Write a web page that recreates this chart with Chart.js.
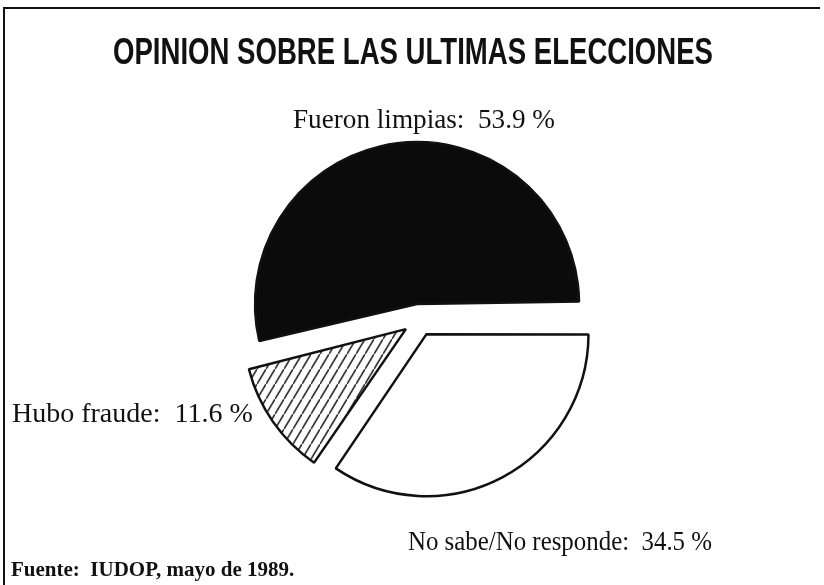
<!DOCTYPE html>
<html>
<head>
<meta charset="utf-8">
<script src="https://cdn.jsdelivr.net/npm/chart.js@4.4.1/dist/chart.umd.min.js"></script>
<style>
  html, body { margin: 0; padding: 0; background: #fff; }
  #wrap { width: 824px; height: 585px; position: relative; }
</style>
</head>
<body>
<div id="wrap"><canvas id="pie"></canvas></div>
<script>
// data, clockwise from 3 o'clock
const categories = ['No sabe/No responde', 'Hubo fraude', 'Fueron limpias'];
const percents = [34.5, 11.6, 53.9];
const titleText = 'OPINION SOBRE LAS ULTIMAS ELECCIONES';
const sourceText = 'Fuente:  IUDOP, mayo de 1989.';

const RADIUS = 162;

// diagonal hatch for "Hubo fraude"
function hatch() {
	const w = 9, h = 15;
	const c = document.createElement('canvas');
	c.width = w; c.height = h;
	const g = c.getContext('2d');
	g.fillStyle = '#fff';
	g.fillRect(0, 0, w, h);
	g.strokeStyle = '#222';
	g.lineWidth = 1.6;
	g.beginPath();
	g.moveTo(-w, 2 * h); g.lineTo(2 * w, -h);
	g.stroke();
	return g.createPattern(c, 'repeat');
}

const fills = ['#ffffff', hatch(), '#0b0b0b'];

// label spots: x, baseline, alignment, max width
const labelPos = [
	{ x: 408, y: 550, align: 'left', max: 304 },
	{ x: 12, y: 422, align: 'left', max: 244 },
	{ x: 424, y: 128, align: 'center', max: 262 }
];

// chart.js grows exploded arcs by offset*fix, undo that so every slice keeps the same radius
const sameRadius = {
	id: 'sameRadius',
	afterDatasetsUpdate(chart) {
		chart.getDatasetMeta(0).data.forEach(arc => {
			const fix = 1 - Math.sin(Math.min(Math.PI, arc.circumference));
			arc.outerRadius = RADIUS - (arc.options.offset / 4) * fix;
		});
	}
};

const textPlugin = {
	id: 'texts',
	afterDraw(chart) {
		const ctx = chart.ctx;
		ctx.save();
		ctx.fillStyle = '#111';
		ctx.textBaseline = 'alphabetic';

		ctx.font = 'bold 37px "Liberation Sans", Arial, sans-serif';
		ctx.textAlign = 'center';
		ctx.fillText(titleText, 413, 64, 600);

		ctx.font = '28px "Liberation Serif", serif';
		categories.forEach((c, i) => {
			const p = labelPos[i];
			ctx.textAlign = p.align;
			ctx.fillText(c + ':  ' + percents[i].toFixed(1) + ' %', p.x, p.y, p.max);
		});

		ctx.font = 'bold 21px "Liberation Serif", serif';
		ctx.textAlign = 'left';
		ctx.fillText(sourceText, 11, 576, 290);

		// frame of the scanned page
		ctx.strokeStyle = '#111';
		ctx.lineWidth = 2;
		ctx.beginPath();
		ctx.moveTo(4, 585); ctx.lineTo(4, 8); ctx.lineTo(820, 8);
		ctx.stroke();
		ctx.restore();
	}
};

new Chart(document.getElementById('pie'), {
	type: 'pie',
	data: {
		labels: categories,
		datasets: [{
			data: percents,
			backgroundColor: fills,
			borderColor: '#111',
			borderWidth: 2.5,
			offset: 64, // arc moves offset/4 px
			hoverOffset: 0
		}]
	},
	options: {
		responsive: true,
		maintainAspectRatio: false,
		animation: false,
		rotation: 90,
		radius: RADIUS,
		layout: { padding: { left: 14, right: 0, top: 55, bottom: 0 } },
		plugins: {
			legend: { display: false },
			tooltip: { enabled: false },
			title: { display: false }
		}
	},
	plugins: [sameRadius, textPlugin]
});
</script>
</body>
</html>
